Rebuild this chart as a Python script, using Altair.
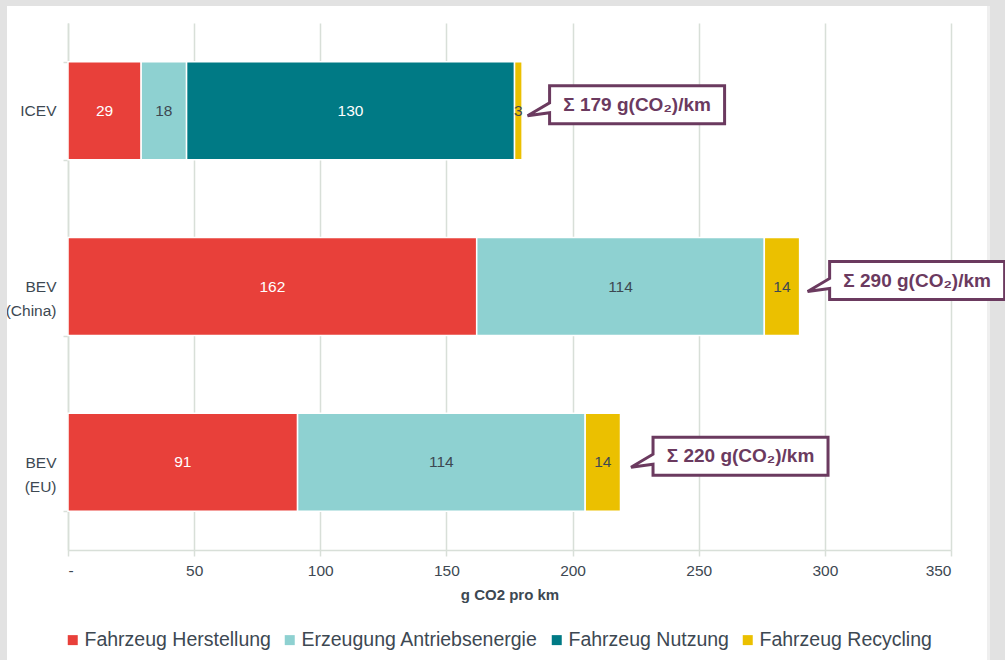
import altair as alt
import pandas as pd

# Categories (top to bottom) and the four emission components per category
categories = ["ICEV", "BEV\n(China)", "BEV\n(EU)"]
segments = ["Fahrzeug Herstellung", "Erzeugung Antriebsenergie", "Fahrzeug Nutzung", "Fahrzeug Recycling"]
herstellung = [29, 162, 91]
antriebsenergie = [18, 114, 114]
nutzung = [130, 0, 0]
recycling = [3, 14, 14]
totals = [179, 290, 220]

seg_colors = ["#E8403A", "#8ED1D1", "#007A85", "#EBC000"]
seg_text_colors = ["#ffffff", "#3d4852", "#ffffff", "#3d4852"]
x_ticks = [0, 50, 100, 150, 200, 250, 300, 350]

TEXT = "#3d4852"
GRID = "#d8dfd8"
PURPLE = "#6b3a5f"
FONT = "Liberation Sans"

# Build stacked segments (start/end/mid) from the value lists
rows = []
series = [herstellung, antriebsenergie, nutzung, recycling]
for i, cat in enumerate(categories):
    start = 0
    for seg, vals, tc in zip(segments, series, seg_text_colors):
        v = vals[i]
        if v == 0:
            continue
        rows.append(dict(cat=cat, seg=seg, value=v, start=start, end=start + v,
                         mid=start + v / 2, tcolor=tc))
        start += v
bars_df = pd.DataFrame(rows)

callout_df = pd.DataFrame({
    "cat": categories,
    "total": totals,
    "label": [f"Σ {t} g(CO₂)/km" for t in totals],
})

y_enc = alt.Y(
    "cat:N",
    sort=categories,
    scale=alt.Scale(domain=categories, paddingInner=0.442, paddingOuter=0.221),
    axis=alt.Axis(
        title=None,
        tickBand="extent",
        grid=False,
        domainColor=GRID,
        domainWidth=1.5,
        tickColor=GRID,
        tickWidth=1.5,
        tickSize=5,
        labelAlign="right",
        labelBaseline="middle",
        labelFontSize=15.5,
        labelColor=TEXT,
        labelLineHeight=24,
        labelPadding=7,
        labelExpr="split(datum.label, '\\n')",
    ),
)

x_scale = alt.Scale(domain=[0, 350], nice=False)

bars = alt.Chart(bars_df).mark_bar(stroke="white", strokeWidth=1.5).encode(
    x=alt.X(
        "start:Q",
        scale=x_scale,
        axis=alt.Axis(
            values=x_ticks,
            title="g CO2 pro km",
            labelExpr="datum.value == 0 ? '-' : datum.label",
            grid=True,
            gridColor=GRID,
            gridWidth=1.5,
            domainColor=GRID,
            domainWidth=1.5,
            tickColor=GRID,
            tickWidth=1.5,
            tickSize=6,
            labelFontSize=15.5,
            labelColor=TEXT,
            labelPadding=7,
            titleFontSize=15,
            titleFontWeight="bold",
            titleColor=TEXT,
            titlePadding=9,
        ),
    ),
    x2="end:Q",
    y=y_enc,
    color=alt.Color(
        "seg:N",
        scale=alt.Scale(domain=segments, range=seg_colors),
        legend=alt.Legend(
            title=None,
            orient="none",
            legendX=-5,
            legendY=607,
            direction="horizontal",
            symbolType="square",
            symbolSize=100,
            symbolStrokeWidth=0,
            labelFontSize=19.5,
            labelColor=TEXT,
            labelOffset=2,
            labelLimit=0,
            columnPadding=9,
            padding=0,
        ),
    ),
)

values = alt.Chart(bars_df).mark_text(fontSize=15.5, baseline="middle", align="center").encode(
    x=alt.X("mid:Q", scale=x_scale),
    y=alt.Y("cat:N", sort=categories),
    text=alt.Text("value:Q"),
    color=alt.Color("tcolor:N", scale=None),
)

# Speech-bubble callout: a custom symbol path (pixel units at size 4), tip just right of the bar end
bubble_path = "M8,5 L30,-8 L30,-25 L205,-25 L205,13 L30,13 L30,2 Z"
bubbles = alt.Chart(callout_df).mark_point(
    shape=bubble_path, size=4, filled=True, fill="white", stroke=PURPLE,
    strokeWidth=3, opacity=1, strokeJoin="miter",
).encode(
    x=alt.X("total:Q", scale=x_scale),
    y=alt.Y("cat:N", sort=categories),
)

bubble_text = alt.Chart(callout_df).mark_text(
    fontSize=19, fontWeight="bold", color=PURPLE, align="center", baseline="middle",
    dx=117.5, dy=-6,
).encode(
    x=alt.X("total:Q", scale=x_scale),
    y=alt.Y("cat:N", sort=categories),
    text="label:N",
)

# Grey surround of the white panel
frame_df = pd.DataFrame({"k": [0]})
frame_left = alt.Chart(frame_df).mark_rect(color="#e2e2e2").encode(
    x=alt.value(-68), x2=alt.value(-61), y=alt.value(-23), y2=alt.value(637))
frame_top = alt.Chart(frame_df).mark_rect(color="#e2e2e2").encode(
    x=alt.value(-68), x2=alt.value(937), y=alt.value(-23), y2=alt.value(-17))
frame_right = alt.Chart(frame_df).mark_rect(color="#e2e2e2").encode(
    x=alt.value(922), x2=alt.value(937), y=alt.value(-23), y2=alt.value(637))
frame_edge = alt.Chart(frame_df).mark_rect(color="#efefef").encode(
    x=alt.value(919), x2=alt.value(922), y=alt.value(-17), y2=alt.value(637))

chart = alt.layer(
    frame_left, frame_top, frame_right, frame_edge, bars, values, bubbles, bubble_text
).properties(
    width=883,
    height=527,
    padding={"left": 68, "top": 23, "right": 54, "bottom": 110},
    autosize=alt.AutoSizeParams(type="none"),
    background="white",
).configure(
    font=FONT,
).configure_view(
    stroke=None,
)

chart.save("out.html", embed_options={"renderer": "svg", "actions": False})
